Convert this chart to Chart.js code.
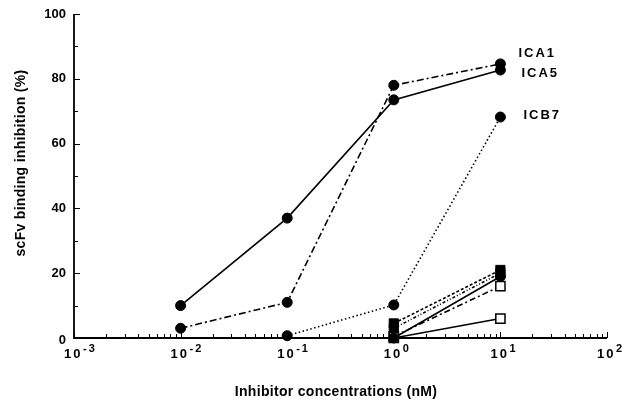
<!DOCTYPE html>
<html>
<head>
<meta charset="utf-8">
<script src="https://cdn.jsdelivr.net/npm/chart.js@4"></script>
<style>
  html, body { margin: 0; padding: 0; background: #fff; }
  #wrap { width: 625px; height: 406px; }
</style>
</head>
<body>
<div id="wrap"><canvas id="inhibitionChart" width="625" height="406"></canvas></div>
<script>
// --- Data ---
const concentrations = [0.01, 0.1, 1, 10];   // nM
const ica1 = [3, 11, 78, 84.6];
const ica5 = [10, 37, 73.5, 82.7];
const icb7 = [null, 0.7, 10.2, 68.2];
const ctrlA = [null, null, 4.5, 21];   // filled squares, dashed
const ctrlB = [null, null, 3, 20];     // filled squares, dash-dot-dot
const ctrlC = [null, null, 0, 19];     // filled circles, solid
const ctrlD = [null, null, 0.5, 16];   // open squares, dash-dot
const ctrlE = [null, null, 0, 6];      // open squares, solid

const yTicks = [0, 20, 40, 60, 80, 100];
const xExponents = [-3, -2, -1, 0, 1, 2];

const FONT = 'Liberation Sans, Arial, sans-serif';

function toPoints(values) {
    return concentrations
        .map((c, i) => ({ x: c, y: values[i] }))
        .filter(p => p.y !== null);
}

function makeSeries(label, values, dash, style, open) {
    return {
        label: label,
        data: toPoints(values),
        borderColor: '#000',
        borderWidth: 1.6,
        borderDash: dash,
        pointStyle: style,
        pointRadius: style === 'rect' ? 6.5 : 5,
        pointBackgroundColor: open ? '#fff' : '#000',
        pointBorderColor: '#000',
        pointBorderWidth: open ? 1.5 : 1,
        fill: false,
        tension: 0,
        clip: false
    };
}

// --- Axes, ticks and text drawn on top of Chart.js scales ---
const axesPlugin = {
    id: 'axesPlugin',
    beforeDatasetsDraw(chart) {
        const { ctx, chartArea, scales } = chart;
        const xs = scales.x, ys = scales.y;
        ctx.save();
        ctx.strokeStyle = '#000';
        ctx.lineWidth = 1.8;
        ctx.beginPath();
        ctx.moveTo(chartArea.left, chartArea.top);
        ctx.lineTo(chartArea.left, chartArea.bottom);
        ctx.lineTo(chartArea.right, chartArea.bottom);
        ctx.stroke();

        // y ticks (inward)
        ctx.lineWidth = 1;
        for (let v = 0; v <= 100; v += 10) {
            const y = Math.round(ys.getPixelForValue(v)) + 0.5;
            const len = v % 20 === 0 ? 6 : 4;
            ctx.beginPath();
            ctx.moveTo(chartArea.left, y);
            ctx.lineTo(chartArea.left + len, y);
            ctx.stroke();
        }
        // x ticks (inward, log minor)
        xExponents.forEach(e => {
            for (let m = 1; m <= 9; m++) {
                if (e === 2 && m > 1) break;
                const x = Math.round(xs.getPixelForValue(m * Math.pow(10, e))) + 0.5;
                const len = m === 1 ? 6 : 4;
                ctx.beginPath();
                ctx.moveTo(x, chartArea.bottom);
                ctx.lineTo(x, chartArea.bottom - len);
                ctx.stroke();
            }
        });
        ctx.restore();
    },
    afterDraw(chart) {
        const { ctx, chartArea, scales } = chart;
        const xs = scales.x, ys = scales.y;
        ctx.save();
        ctx.fillStyle = '#000';

        // y tick labels
        ctx.font = `bold 13px ${FONT}`;
        ctx.textAlign = 'right';
        ctx.textBaseline = 'middle';
        yTicks.forEach(v => {
            ctx.fillText(String(v), chartArea.left - 8, ys.getPixelForValue(v) + (v === 0 ? 2 : 0));
        });

        // x tick labels with superscript exponents
        ctx.textAlign = 'left';
        ctx.textBaseline = 'alphabetic';
        ctx.letterSpacing = '2px';
        xExponents.forEach(e => {
            const x = xs.getPixelForValue(Math.pow(10, e));
            ctx.font = `bold 13px ${FONT}`;
            ctx.fillText('10', x - 10, 358);
            ctx.font = `bold 11px ${FONT}`;
            ctx.fillText(String(e), x + 9, 352);
        });

        // series labels next to the last points
        ctx.font = `bold 13px ${FONT}`;
        ctx.textBaseline = 'middle';
        const x10 = xs.getPixelForValue(10);
        ctx.fillText('ICA1', x10 + 18, 53);
        ctx.fillText('ICA5', x10 + 21, 73);
        ctx.fillText('ICB7', x10 + 23, 115);
        ctx.letterSpacing = '0.3px';

        // axis titles
        ctx.font = `bold 14px ${FONT}`;
        ctx.textAlign = 'center';
        ctx.fillText('Inhibitor concentrations (nM)', 336, 392);
        ctx.translate(21, 163);
        ctx.rotate(-Math.PI / 2);
        ctx.fillText('scFv binding inhibition (%)', 0, 0);
        ctx.restore();
    }
};

window.addEventListener('DOMContentLoaded', () => {
    const ctx = document.getElementById('inhibitionChart').getContext('2d');
    new Chart(ctx, {
        type: 'line',
        data: {
            datasets: [
                makeSeries('ICA1', ica1, [7, 3, 2, 3], 'circle', false),
                makeSeries('ICA5', ica5, [], 'circle', false),
                makeSeries('ICB7', icb7, [1.5, 2.5], 'circle', false),
                makeSeries('ctrlA', ctrlA, [3, 2], 'rect', false),
                makeSeries('ctrlB', ctrlB, [3, 2, 1, 2, 1, 2], 'rect', false),
                makeSeries('ctrlC', ctrlC, [], 'circle', false),
                makeSeries('ctrlD', ctrlD, [6, 3, 2, 3], 'rect', true),
                makeSeries('ctrlE', ctrlE, [], 'rect', true)
            ]
        },
        options: {
            responsive: false,
            animation: false,
            devicePixelRatio: 1,
            layout: { padding: { left: 74, right: 18, top: 14, bottom: 68 } },
            scales: {
                x: { type: 'logarithmic', min: 0.001, max: 100, display: false },
                y: { min: 0, max: 100, display: false }
            },
            plugins: {
                legend: { display: false },
                tooltip: { enabled: false }
            }
        },
        plugins: [axesPlugin]
    });
});
</script>
</body>
</html>
